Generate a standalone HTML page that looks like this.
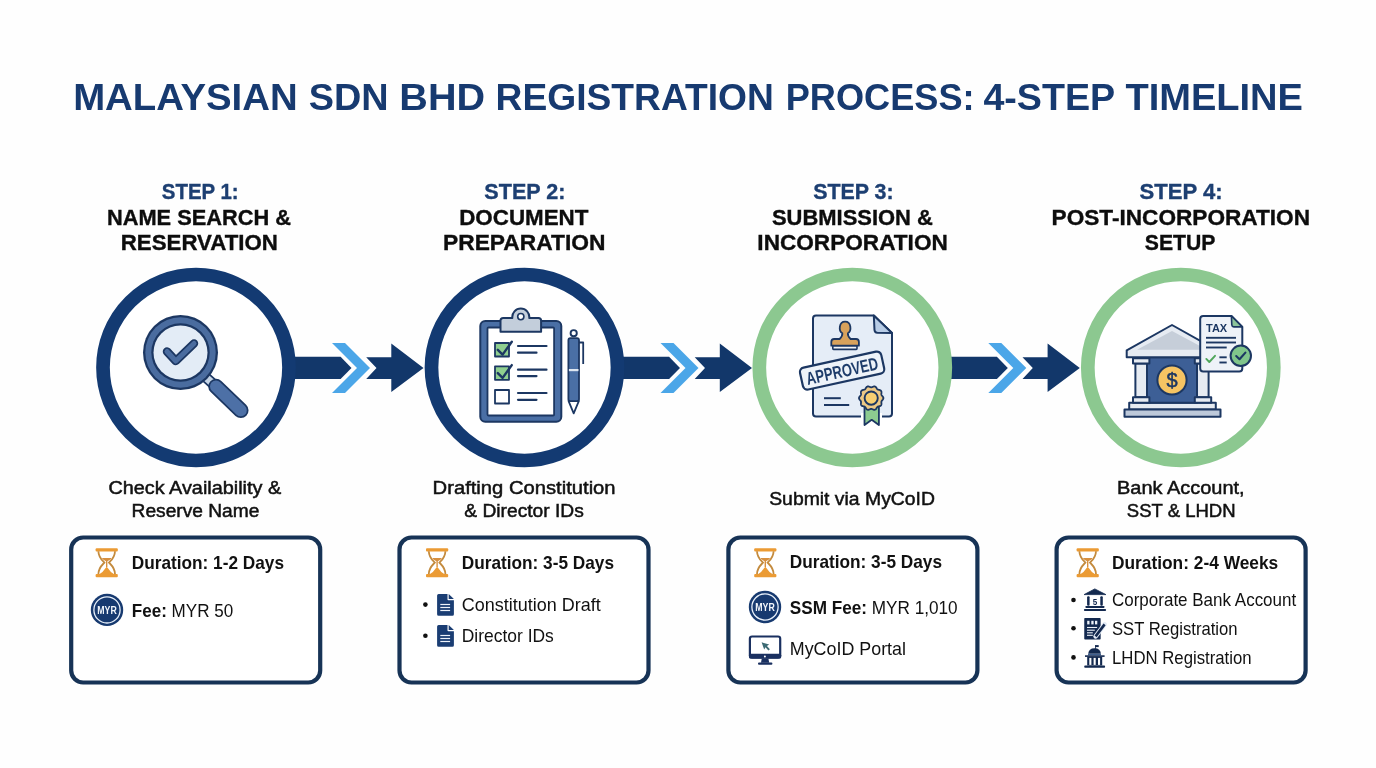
<!DOCTYPE html>
<html><head><meta charset="utf-8"><style>
html,body{margin:0;padding:0;background:#fefefe;}
body{width:1376px;height:768px;overflow:hidden;}
svg{display:block;font-family:"Liberation Sans",sans-serif;will-change:transform;}
</style></head><body>
<svg width="1376" height="768" viewBox="0 0 1376 768">
<rect width="1376" height="768" fill="#fefefe"/>
<polygon points="291,356.7 340.6,356.7 351.5,368 340.6,379.1 291,379.1" fill="#12376a"/>
<polygon points="332,343 345,343 370,368 345,393 332,393 357,368" fill="#4ba6e8"/>
<polygon points="366.2,357.2 391.3,357.2 391.3,343.6 423.5,368 391.3,392 391.3,379 366.2,379 376.5,368" fill="#12376a"/>
<polygon points="619.5,356.7 669.1,356.7 680.0,368 669.1,379.1 619.5,379.1" fill="#12376a"/>
<polygon points="660.5,343 673.5,343 698.5,368 673.5,393 660.5,393 685.5,368" fill="#4ba6e8"/>
<polygon points="694.7,357.2 719.8,357.2 719.8,343.6 752.0,368 719.8,392 719.8,379 694.7,379 705.0,368" fill="#12376a"/>
<polygon points="947.3,356.7 996.9,356.7 1007.8,368 996.9,379.1 947.3,379.1" fill="#12376a"/>
<polygon points="988.3,343 1001.3,343 1026.3,368 1001.3,393 988.3,393 1013.3,368" fill="#4ba6e8"/>
<polygon points="1022.5,357.2 1047.6,357.2 1047.6,343.6 1079.8,368 1047.6,392 1047.6,379 1022.5,379 1032.8,368" fill="#12376a"/>
<circle cx="196" cy="367.5" r="93" fill="#ffffff" stroke="#133a72" stroke-width="13.7"/>
<circle cx="524.5" cy="367.5" r="93" fill="#ffffff" stroke="#133a72" stroke-width="13.7"/>
<circle cx="852.3" cy="367.5" r="93" fill="#ffffff" stroke="#8cc890" stroke-width="13.7"/>
<circle cx="1180.8" cy="367.5" r="93" fill="#ffffff" stroke="#8cc890" stroke-width="13.7"/>
<g>
<line x1="206" y1="377.5" x2="216" y2="386.5" stroke="#1c3762" stroke-width="11" />
<line x1="206" y1="377.5" x2="216" y2="386.5" stroke="#c6d5e6" stroke-width="7.5" />
<line x1="216" y1="386.5" x2="240.8" y2="410.3" stroke="#1c3762" stroke-width="15.5" stroke-linecap="round"/>
<line x1="216" y1="386.5" x2="240.8" y2="410.3" stroke="#4d70a6" stroke-width="12" stroke-linecap="round"/>
<circle cx="180.5" cy="352.5" r="37.5" fill="#1c3762"/>
<circle cx="180.5" cy="352.5" r="35.2" fill="#4a6c9f"/>
<circle cx="180.5" cy="352.5" r="29.2" fill="#1c3762"/>
<circle cx="180.5" cy="352.5" r="27" fill="#e3ecf6"/>
<polyline points="167,351.5 175.8,361 194,343.5" fill="none" stroke="#1c3762" stroke-width="8.5" stroke-linecap="round" stroke-linejoin="round"/>
<polyline points="167,351.5 175.8,361 194,343.5" fill="none" stroke="#4a6c9f" stroke-width="5" stroke-linecap="round" stroke-linejoin="round"/>
</g>
<g stroke="#1c3762" stroke-width="2" stroke-linejoin="round">
<rect x="480.3" y="320.9" width="81" height="100.8" rx="5" fill="#4a6fa5"/>
<rect x="487.5" y="327.5" width="66.6" height="88" rx="1" fill="#ffffff" stroke-width="1.8"/>
<path d="M500.5,331.7 L500.5,320.5 Q500.5,317.9 503.2,317.9 L512.35,317.9 A8.5,8.5 0 1 1 529.25,317.9 L538.4,317.9 Q541.1,317.9 541.1,320.5 L541.1,331.7 Z" fill="#c3cedb"/>
<circle cx="520.8" cy="316.6" r="3.1" fill="#ffffff" stroke-width="1.6"/>
<rect x="495" y="343" width="14" height="13.5" fill="#8fcf8f" stroke-width="1.8"/>
<rect x="495" y="366.3" width="14" height="13.5" fill="#8fcf8f" stroke-width="1.8"/>
<rect x="495" y="390" width="14" height="13.5" fill="#ffffff" stroke-width="1.8"/>
<polyline points="497.8,349.8 502.6,354.6 511.8,341.8" fill="none" stroke-width="2.4" stroke-linecap="round"/>
<polyline points="497.8,373.1 502.6,377.9 511.8,365.1" fill="none" stroke-width="2.4" stroke-linecap="round"/>
<g stroke-width="2.2" stroke-linecap="round">
<line x1="518" y1="346" x2="546.5" y2="346"/><line x1="518" y1="352.7" x2="536.5" y2="352.7"/>
<line x1="518" y1="369.7" x2="546.5" y2="369.7"/><line x1="518" y1="376.1" x2="536.5" y2="376.1"/>
<line x1="518" y1="393" x2="546.5" y2="393"/><line x1="518" y1="399.8" x2="536.5" y2="399.8"/>
</g>
<path d="M579,342.5 L583.2,342.5 L583.2,364" fill="none" stroke-width="1.8"/>
<circle cx="573.7" cy="333.2" r="3.1" fill="#ffffff" stroke-width="1.9"/>
<polygon points="568.6,401.2 578.8,401.2 573.7,413.3" fill="#ffffff" stroke-width="1.8"/>
<rect x="568.4" y="338.2" width="10.6" height="63" rx="2" fill="#4a6fa5" stroke-width="1.8"/>
<rect x="568.9" y="369" width="9.6" height="2.2" fill="#dfe7f1" stroke="none"/>
</g>
<g stroke="#1c3762" stroke-width="2" stroke-linejoin="round">
<path d="M816,315.5 L873.8,315.5 L892,333 L892,413.5 Q892,416.5 889,416.5 L816,416.5 Q813,416.5 813,413.5 L813,318.5 Q813,315.5 816,315.5 Z" fill="#e5edf7"/>
<path d="M873.8,315.5 L874.5,330 Q874.7,332.6 877.3,332.8 L892,333 Z" fill="#b7cce6"/>
<rect x="832.8" y="345.6" width="24.2" height="3.8" rx="0.8" fill="#f4f6f9" stroke-width="1.6"/>
<path d="M839.6,339 C841.6,337.2 842.6,335.2 842.3,333.2 C838.4,331 838.8,321.6 845.1,321.6 C851.4,321.6 851.8,331 847.9,333.2 C847.6,335.2 848.6,337.2 850.6,339 L856,339 Q858.9,339 858.9,341.9 L858.9,345.7 L831.3,345.7 L831.3,341.9 Q831.3,339 834.2,339 Z" fill="#d8a25c" stroke-width="1.8"/>
<line x1="824" y1="398.2" x2="840.8" y2="398.2" stroke-width="2"/>
<line x1="824" y1="405" x2="849.2" y2="405" stroke-width="2"/>
<g transform="translate(842.1,370.6) rotate(-12.4)">
<rect x="-41.6" y="-11.2" width="83.2" height="22.4" rx="4.5" fill="#eef3f9" stroke-width="2.2"/>
<text x="0" y="6.6" font-size="18" font-weight="bold" fill="#1f3d6b" stroke="none" text-anchor="middle" textLength="73" lengthAdjust="spacingAndGlyphs">APPROVED</text>
</g>
<rect x="861" y="413" width="21" height="6" fill="#ffffff" stroke="none"/>
<polygon points="864.5,406 878.9,406 878.9,425 871.7,419.8 864.5,425" fill="#8ccb90" stroke-width="1.8"/>
<polygon points="883.40,398.10 883.34,398.58 883.16,399.04 882.89,399.48 882.56,399.90 882.22,400.29 881.90,400.67 881.65,401.05 881.47,401.44 881.38,401.86 881.37,402.31 881.40,402.80 881.45,403.32 881.47,403.85 881.43,404.37 881.30,404.85 881.07,405.27 880.74,405.62 880.32,405.89 879.84,406.09 879.33,406.23 878.82,406.35 878.35,406.47 877.92,406.62 877.55,406.84 877.23,407.12 876.95,407.48 876.69,407.90 876.42,408.35 876.13,408.79 875.79,409.18 875.40,409.50 874.97,409.70 874.50,409.79 874.00,409.76 873.50,409.64 873.00,409.46 872.52,409.25 872.06,409.07 871.63,408.94 871.20,408.90 870.77,408.94 870.34,409.07 869.88,409.25 869.40,409.46 868.90,409.64 868.40,409.76 867.90,409.79 867.43,409.70 867.00,409.50 866.61,409.18 866.27,408.79 865.98,408.35 865.71,407.90 865.45,407.48 865.17,407.12 864.85,406.84 864.48,406.62 864.05,406.47 863.58,406.35 863.07,406.23 862.56,406.09 862.08,405.89 861.66,405.62 861.33,405.27 861.10,404.85 860.97,404.37 860.93,403.85 860.95,403.32 861.00,402.80 861.03,402.31 861.02,401.86 860.93,401.44 860.75,401.05 860.50,400.67 860.18,400.29 859.84,399.90 859.51,399.48 859.24,399.04 859.06,398.58 859.00,398.10 859.06,397.62 859.24,397.16 859.51,396.72 859.84,396.30 860.18,395.91 860.50,395.53 860.75,395.15 860.93,394.76 861.02,394.34 861.03,393.89 861.00,393.40 860.95,392.88 860.93,392.35 860.97,391.83 861.10,391.35 861.33,390.93 861.66,390.58 862.08,390.31 862.56,390.11 863.07,389.97 863.58,389.85 864.05,389.73 864.48,389.58 864.85,389.36 865.17,389.08 865.45,388.72 865.71,388.30 865.98,387.85 866.27,387.41 866.61,387.02 867.00,386.70 867.43,386.50 867.90,386.41 868.40,386.44 868.90,386.56 869.40,386.74 869.88,386.95 870.34,387.13 870.77,387.26 871.20,387.30 871.63,387.26 872.06,387.13 872.52,386.95 873.00,386.74 873.50,386.56 874.00,386.44 874.50,386.41 874.97,386.50 875.40,386.70 875.79,387.02 876.13,387.41 876.42,387.85 876.69,388.30 876.95,388.72 877.23,389.08 877.55,389.36 877.92,389.58 878.35,389.73 878.82,389.85 879.33,389.97 879.84,390.11 880.32,390.31 880.74,390.58 881.07,390.93 881.30,391.35 881.43,391.83 881.47,392.35 881.45,392.88 881.40,393.40 881.37,393.89 881.38,394.34 881.47,394.76 881.65,395.15 881.90,395.53 882.22,395.91 882.56,396.30 882.89,396.72 883.16,397.16 883.34,397.62" fill="#edc986" stroke-width="1.8"/>
<circle cx="871.2" cy="398.1" r="6.6" fill="#f7cf72" stroke-width="1.9"/>
</g>
<g stroke="#1c3762" stroke-width="2" stroke-linejoin="round">
<rect x="1129.2" y="402.7" width="86.6" height="6.8" fill="#e6ebf2"/>
<rect x="1124.5" y="409.5" width="96" height="7.2" fill="#bdc9da"/>
<rect x="1147" y="357.3" width="50" height="45.4" fill="#3d5f96"/>
<rect x="1135.4" y="363.6" width="11.6" height="33.6" fill="#e6ebf2"/>
<rect x="1133" y="358.2" width="16.4" height="5.4" fill="#e6ebf2"/>
<rect x="1133" y="397.2" width="16.4" height="5.5" fill="#e6ebf2"/>
<rect x="1197" y="363.6" width="11.6" height="33.6" fill="#e6ebf2"/>
<rect x="1194.8" y="358.2" width="16.4" height="5.4" fill="#e6ebf2"/>
<rect x="1194.8" y="397.2" width="16.4" height="5.5" fill="#e6ebf2"/>
<path d="M1126.7,357.3 L1126.7,350.3 L1172,325 L1217.3,350.3 L1217.3,357.3 Z" fill="#e6ebf2"/>
<path d="M1137,349.8 L1172,331 L1207,349.8 Z" fill="#c6ced9" stroke="none"/>
<circle cx="1172" cy="380" r="14.6" fill="#f6c463" stroke-width="2"/>
<text x="1172" y="387.2" font-size="20" fill="#1c3762" stroke="#1c3762" stroke-width="0.5" text-anchor="middle">$</text>
<path d="M1203.2,315.9 L1231.4,315.9 L1242.3,326.9 L1242.3,368.4 Q1242.3,371.4 1239.3,371.4 L1203.2,371.4 Q1200.2,371.4 1200.2,368.4 L1200.2,318.9 Q1200.2,315.9 1203.2,315.9 Z" fill="#eef2f8"/>
<path d="M1231.4,315.9 L1231.8,325 Q1232,326.8 1233.8,326.9 L1242.3,326.9 Z" fill="#8cc49a" stroke-width="1.6"/>
<text x="1206" y="332" font-size="11.6" font-weight="bold" fill="#1c3762" stroke="none" textLength="21.2" lengthAdjust="spacingAndGlyphs">TAX</text>
<g stroke-width="1.9"><line x1="1206" y1="337.8" x2="1236" y2="337.8"/><line x1="1206" y1="342.5" x2="1236" y2="342.5"/><line x1="1206" y1="347.5" x2="1226.7" y2="347.5"/>
<line x1="1219.4" y1="357.3" x2="1226.7" y2="357.3"/><line x1="1219.4" y1="362.5" x2="1226.7" y2="362.5"/></g>
<polyline points="1206.3,358.9 1209.3,362 1215,355.8" fill="none" stroke="#4fa65a" stroke-width="1.9" stroke-linecap="round"/>
<circle cx="1240.8" cy="355.8" r="10.2" fill="#80c58b" stroke-width="2"/>
<polyline points="1236.2,356 1239.5,359.2 1245.4,352.6" fill="none" stroke-width="2.1" stroke-linecap="round"/>
</g>
<rect x="71.2" y="537.5" width="249" height="145" rx="12" fill="#ffffff" stroke="#173356" stroke-width="4.2"/>
<rect x="399.5" y="537.5" width="249" height="145" rx="12" fill="#ffffff" stroke="#173356" stroke-width="4.2"/>
<rect x="728.4" y="537.5" width="249" height="145" rx="12" fill="#ffffff" stroke="#173356" stroke-width="4.2"/>
<rect x="1056.6" y="537.5" width="249" height="145" rx="12" fill="#ffffff" stroke="#173356" stroke-width="4.2"/>
<g transform="translate(95.6,547.6)" fill="#eb9b34" stroke="none">
<rect x="0" y="0.6" width="22.2" height="3.2" rx="1"/>
<rect x="0" y="26.4" width="22.2" height="3.2" rx="1"/>
<path d="M2.8,3.6 C3,10 6.3,12.3 8.8,15 C6.3,17.7 3,20 2.8,26.4" fill="none" stroke="#c48b3e" stroke-width="1.8"/>
<path d="M19.4,3.6 C19.2,10 15.9,12.3 13.4,15 C15.9,17.7 19.2,20 19.4,26.4" fill="none" stroke="#c48b3e" stroke-width="1.8"/>
<path d="M6.4,10.4 L15.8,10.4 L15.2,11.6 L11.8,13.6 L11.8,19.5 L10.4,19.5 L10.4,13.6 L7,11.6 Z" fill="#d79040"/>
<path d="M4,26.5 Q7.5,24.5 9.6,21 L11.1,19.2 L12.6,21 Q14.7,24.5 18.2,26.5 Z"/>
</g>
<g transform="translate(426,547.6)" fill="#eb9b34" stroke="none">
<rect x="0" y="0.6" width="22.2" height="3.2" rx="1"/>
<rect x="0" y="26.4" width="22.2" height="3.2" rx="1"/>
<path d="M2.8,3.6 C3,10 6.3,12.3 8.8,15 C6.3,17.7 3,20 2.8,26.4" fill="none" stroke="#c48b3e" stroke-width="1.8"/>
<path d="M19.4,3.6 C19.2,10 15.9,12.3 13.4,15 C15.9,17.7 19.2,20 19.4,26.4" fill="none" stroke="#c48b3e" stroke-width="1.8"/>
<path d="M6.4,10.4 L15.8,10.4 L15.2,11.6 L11.8,13.6 L11.8,19.5 L10.4,19.5 L10.4,13.6 L7,11.6 Z" fill="#d79040"/>
<path d="M4,26.5 Q7.5,24.5 9.6,21 L11.1,19.2 L12.6,21 Q14.7,24.5 18.2,26.5 Z"/>
</g>
<g transform="translate(754.2,547.6)" fill="#eb9b34" stroke="none">
<rect x="0" y="0.6" width="22.2" height="3.2" rx="1"/>
<rect x="0" y="26.4" width="22.2" height="3.2" rx="1"/>
<path d="M2.8,3.6 C3,10 6.3,12.3 8.8,15 C6.3,17.7 3,20 2.8,26.4" fill="none" stroke="#c48b3e" stroke-width="1.8"/>
<path d="M19.4,3.6 C19.2,10 15.9,12.3 13.4,15 C15.9,17.7 19.2,20 19.4,26.4" fill="none" stroke="#c48b3e" stroke-width="1.8"/>
<path d="M6.4,10.4 L15.8,10.4 L15.2,11.6 L11.8,13.6 L11.8,19.5 L10.4,19.5 L10.4,13.6 L7,11.6 Z" fill="#d79040"/>
<path d="M4,26.5 Q7.5,24.5 9.6,21 L11.1,19.2 L12.6,21 Q14.7,24.5 18.2,26.5 Z"/>
</g>
<g transform="translate(1076.6,547.6)" fill="#eb9b34" stroke="none">
<rect x="0" y="0.6" width="22.2" height="3.2" rx="1"/>
<rect x="0" y="26.4" width="22.2" height="3.2" rx="1"/>
<path d="M2.8,3.6 C3,10 6.3,12.3 8.8,15 C6.3,17.7 3,20 2.8,26.4" fill="none" stroke="#c48b3e" stroke-width="1.8"/>
<path d="M19.4,3.6 C19.2,10 15.9,12.3 13.4,15 C15.9,17.7 19.2,20 19.4,26.4" fill="none" stroke="#c48b3e" stroke-width="1.8"/>
<path d="M6.4,10.4 L15.8,10.4 L15.2,11.6 L11.8,13.6 L11.8,19.5 L10.4,19.5 L10.4,13.6 L7,11.6 Z" fill="#d79040"/>
<path d="M4,26.5 Q7.5,24.5 9.6,21 L11.1,19.2 L12.6,21 Q14.7,24.5 18.2,26.5 Z"/>
</g>
<g><circle cx="107" cy="609.9" r="16.2" fill="#173a70"/>
<circle cx="107" cy="609.9" r="13.1" fill="none" stroke="#e8f0fa" stroke-width="1.3"/>
<text x="107" y="613.5" font-size="10" font-weight="bold" fill="#f2f6fb" text-anchor="middle" textLength="19.5" lengthAdjust="spacingAndGlyphs">MYR</text></g>
<g><circle cx="765" cy="607" r="16.2" fill="#173a70"/>
<circle cx="765" cy="607" r="13.1" fill="none" stroke="#e8f0fa" stroke-width="1.3"/>
<text x="765" y="610.6" font-size="10" font-weight="bold" fill="#f2f6fb" text-anchor="middle" textLength="19.5" lengthAdjust="spacingAndGlyphs">MYR</text></g>
<g transform="translate(437.1,593.9)">
<path d="M1.5,0 L10.4,0 L10.4,5.6 Q10.4,6.4 11.2,6.4 L16.8,6.4 L16.8,20.4 Q16.8,21.9 15.3,21.9 L1.5,21.9 Q0,21.9 0,20.4 L0,1.5 Q0,0 1.5,0 Z" fill="#1a3d73"/>
<path d="M11.6,0.2 L16.8,5.2 L11.6,5.2 Z" fill="#1a3d73"/>
<g stroke="#eef3fa" stroke-width="1.2"><line x1="3.2" y1="10.6" x2="13" y2="10.6"/><line x1="3.2" y1="13.6" x2="13" y2="13.6"/><line x1="3.2" y1="16.6" x2="13" y2="16.6"/></g>
</g>
<g transform="translate(437.1,624.9)">
<path d="M1.5,0 L10.4,0 L10.4,5.6 Q10.4,6.4 11.2,6.4 L16.8,6.4 L16.8,20.4 Q16.8,21.9 15.3,21.9 L1.5,21.9 Q0,21.9 0,20.4 L0,1.5 Q0,0 1.5,0 Z" fill="#1a3d73"/>
<path d="M11.6,0.2 L16.8,5.2 L11.6,5.2 Z" fill="#1a3d73"/>
<g stroke="#eef3fa" stroke-width="1.2"><line x1="3.2" y1="10.6" x2="13" y2="10.6"/><line x1="3.2" y1="13.6" x2="13" y2="13.6"/><line x1="3.2" y1="16.6" x2="13" y2="16.6"/></g>
</g>
<circle cx="425.4" cy="604.6" r="2.3" fill="#111"/>
<circle cx="425.4" cy="635.7" r="2.3" fill="#111"/>
<circle cx="1073.5" cy="600" r="2.3" fill="#111"/>
<circle cx="1073.5" cy="628.2" r="2.3" fill="#111"/>
<circle cx="1073.5" cy="657.4" r="2.3" fill="#111"/>
<g fill="#1a3060">
<rect x="749.9" y="636.5" width="30.3" height="21.2" rx="2.2" fill="#ffffff" stroke="#1a3060" stroke-width="2.2"/>
<rect x="749" y="653.8" width="32.2" height="4.8" rx="1.5"/>
<circle cx="764.9" cy="656.4" r="1" fill="#ffffff"/>
<polygon points="761.8,658.5 768.4,658.5 769.2,662.8 761,662.8"/>
<rect x="758" y="662.6" width="14.4" height="2.1" rx="1"/>
<path d="M761.6,642.3 L769.2,644.6 L766.9,645.9 L769.9,649.2 L768.4,650.5 L765.5,647.2 L764.2,649.6 Z" fill="#3d6b74"/>
</g>
<g fill="#13294f">
<polygon points="1094.8,588.9 1105.9,594.6 1084.1,594.6" stroke="#13294f" stroke-width="0.8" stroke-linejoin="round"/>
<rect x="1087.1" y="596.2" width="2.5" height="9.6" rx="1"/>
<rect x="1100.3" y="596.2" width="2.5" height="9.6" rx="1"/>
<text x="1095" y="604.7" font-size="9.6" font-weight="bold" text-anchor="middle" textLength="4.5" lengthAdjust="spacingAndGlyphs">5</text>
<rect x="1085.3" y="606.1" width="19.3" height="1.8" rx="0.8"/>
<rect x="1083.9" y="608.9" width="22.2" height="2.2" rx="1"/>
</g>
<g>
<rect x="1084.25" y="617.9" width="16.4" height="21.7" rx="0.8" fill="#13294f"/>
<g fill="#eef3fa"><rect x="1087.2" y="620.8" width="2.3" height="3.6"/><rect x="1091.3" y="620.8" width="2.3" height="3.6"/><rect x="1095" y="620.8" width="2.3" height="3.6"/></g>
<g stroke="#eef3fa" stroke-width="1.1"><line x1="1087" y1="627.5" x2="1097.1" y2="627.5"/><line x1="1087" y1="630.2" x2="1094.8" y2="630.2"/><line x1="1087" y1="632.8" x2="1092.8" y2="632.8"/><line x1="1087" y1="635.3" x2="1092.8" y2="635.3"/></g>
<line x1="1104.6" y1="624.4" x2="1095.6" y2="636.4" stroke="#e2eaf5" stroke-width="4.6" stroke-linecap="round"/>
<line x1="1104.6" y1="624.4" x2="1095.6" y2="636.4" stroke="#13294f" stroke-width="2.6"/>
</g>
<g fill="#13294f">
<rect x="1095.2" y="645.1" width="0.8" height="4"/>
<rect x="1095.2" y="645.1" width="3.5" height="2"/>
<path d="M1088.2,653.8 Q1088.6,648.2 1094.55,648.2 Q1100.5,648.2 1100.9,653.8 Z"/>
<rect x="1088" y="653.8" width="13" height="1.6" fill="#3f5f8f"/>
<rect x="1085" y="655.3" width="19.6" height="1.6"/>
<rect x="1087.2" y="656.9" width="15" height="8.6"/>
<g fill="#ffffff"><rect x="1089.3" y="657.9" width="2.1" height="7"/><rect x="1093.6" y="657.9" width="2.1" height="7"/><rect x="1098" y="657.9" width="2.1" height="7"/></g>
<rect x="1084.25" y="665.4" width="20.8" height="2.4" rx="0.8"/>
</g>
<text x="73.18" y="109.9" font-size="36.6" font-weight="bold" fill="#173a70" textLength="224.45" lengthAdjust="spacingAndGlyphs" >MALAYSIAN</text>
<text x="308.77" y="109.9" font-size="36.6" font-weight="bold" fill="#173a70" textLength="79.87" lengthAdjust="spacingAndGlyphs" >SDN</text>
<text x="399.33" y="109.9" font-size="36.6" font-weight="bold" fill="#173a70" textLength="85.72" lengthAdjust="spacingAndGlyphs" >BHD</text>
<text x="495.58" y="109.9" font-size="36.6" font-weight="bold" fill="#173a70" textLength="278.24" lengthAdjust="spacingAndGlyphs" >REGISTRATION</text>
<text x="785.75" y="109.9" font-size="36.6" font-weight="bold" fill="#173a70" textLength="188.91" lengthAdjust="spacingAndGlyphs" >PROCESS:</text>
<text x="983.40" y="109.9" font-size="36.6" font-weight="bold" fill="#173a70" textLength="131.80" lengthAdjust="spacingAndGlyphs" >4-STEP</text>
<text x="1125.40" y="109.9" font-size="36.6" font-weight="bold" fill="#173a70" textLength="177.60" lengthAdjust="spacingAndGlyphs" >TIMELINE</text>
<text x="161.79" y="199" font-size="21.2" font-weight="bold" fill="#1d3f72" textLength="76.81" lengthAdjust="spacingAndGlyphs" stroke="#1d3f72" stroke-width="0.35">STEP 1:</text>
<text x="107.01" y="224.9" font-size="21.2" font-weight="bold" fill="#0d0d0d" textLength="183.99" lengthAdjust="spacingAndGlyphs" stroke="#0d0d0d" stroke-width="0.35">NAME SEARCH &amp;</text>
<text x="120.80" y="250.3" font-size="21.2" font-weight="bold" fill="#0d0d0d" textLength="157.00" lengthAdjust="spacingAndGlyphs" stroke="#0d0d0d" stroke-width="0.35">RESERVATION</text>
<text x="484.39" y="199" font-size="21.2" font-weight="bold" fill="#1d3f72" textLength="81.02" lengthAdjust="spacingAndGlyphs" stroke="#1d3f72" stroke-width="0.35">STEP 2:</text>
<text x="459.20" y="224.9" font-size="21.2" font-weight="bold" fill="#0d0d0d" textLength="129.21" lengthAdjust="spacingAndGlyphs" stroke="#0d0d0d" stroke-width="0.35">DOCUMENT</text>
<text x="442.99" y="250.3" font-size="21.2" font-weight="bold" fill="#0d0d0d" textLength="162.42" lengthAdjust="spacingAndGlyphs" stroke="#0d0d0d" stroke-width="0.35">PREPARATION</text>
<text x="813.20" y="199" font-size="21.2" font-weight="bold" fill="#1d3f72" textLength="80.41" lengthAdjust="spacingAndGlyphs" stroke="#1d3f72" stroke-width="0.35">STEP 3:</text>
<text x="772.00" y="224.9" font-size="21.2" font-weight="bold" fill="#0d0d0d" textLength="160.80" lengthAdjust="spacingAndGlyphs" stroke="#0d0d0d" stroke-width="0.35">SUBMISSION &amp;</text>
<text x="757.39" y="250.3" font-size="21.2" font-weight="bold" fill="#0d0d0d" textLength="190.42" lengthAdjust="spacingAndGlyphs" stroke="#0d0d0d" stroke-width="0.35">INCORPORATION</text>
<text x="1139.59" y="199" font-size="21.2" font-weight="bold" fill="#1d3f72" textLength="83.01" lengthAdjust="spacingAndGlyphs" stroke="#1d3f72" stroke-width="0.35">STEP 4:</text>
<text x="1051.60" y="224.9" font-size="21.2" font-weight="bold" fill="#0d0d0d" textLength="258.40" lengthAdjust="spacingAndGlyphs" stroke="#0d0d0d" stroke-width="0.35">POST-INCORPORATION</text>
<text x="1144.79" y="250.3" font-size="21.2" font-weight="bold" fill="#0d0d0d" textLength="70.61" lengthAdjust="spacingAndGlyphs" stroke="#0d0d0d" stroke-width="0.35">SETUP</text>
<text x="108.40" y="493.5" font-size="18.9" font-weight="normal" fill="#111111" textLength="172.81" lengthAdjust="spacingAndGlyphs" stroke="#111111" stroke-width="0.5">Check Availability &amp;</text>
<text x="131.59" y="516.8" font-size="18.9" font-weight="normal" fill="#111111" textLength="127.82" lengthAdjust="spacingAndGlyphs" stroke="#111111" stroke-width="0.5">Reserve Name</text>
<text x="432.60" y="493.6" font-size="18.9" font-weight="normal" fill="#111111" textLength="183.00" lengthAdjust="spacingAndGlyphs" stroke="#111111" stroke-width="0.5">Drafting Constitution</text>
<text x="464.39" y="516.6" font-size="18.9" font-weight="normal" fill="#111111" textLength="119.41" lengthAdjust="spacingAndGlyphs" stroke="#111111" stroke-width="0.5">&amp; Director IDs</text>
<text x="769.20" y="504.8" font-size="18.9" font-weight="normal" fill="#111111" textLength="165.81" lengthAdjust="spacingAndGlyphs" stroke="#111111" stroke-width="0.5">Submit via MyCoID</text>
<text x="1116.99" y="493.6" font-size="18.9" font-weight="normal" fill="#111111" textLength="127.63" lengthAdjust="spacingAndGlyphs" stroke="#111111" stroke-width="0.5">Bank Account,</text>
<text x="1126.79" y="516.6" font-size="18.9" font-weight="normal" fill="#111111" textLength="108.82" lengthAdjust="spacingAndGlyphs" stroke="#111111" stroke-width="0.5">SST &amp; LHDN</text>
<text x="131.79" y="568.8" font-size="18.2" font-weight="normal" fill="#111111" textLength="152.22" lengthAdjust="spacingAndGlyphs" ><tspan font-weight="bold">Duration: 1-2 Days</tspan></text>
<text x="131.79" y="616.8" font-size="18.2" font-weight="normal" fill="#111111" textLength="101.42" lengthAdjust="spacingAndGlyphs" ><tspan font-weight="bold">Fee:</tspan> MYR 50</text>
<text x="461.79" y="568.8" font-size="18.2" font-weight="normal" fill="#111111" textLength="152.22" lengthAdjust="spacingAndGlyphs" ><tspan font-weight="bold">Duration: 3-5 Days</tspan></text>
<text x="461.79" y="610.8" font-size="18.2" font-weight="normal" fill="#111111" textLength="139.02" lengthAdjust="spacingAndGlyphs" >Constitution Draft</text>
<text x="461.79" y="641.7" font-size="18.2" font-weight="normal" fill="#111111" textLength="92.01" lengthAdjust="spacingAndGlyphs" >Director IDs</text>
<text x="789.79" y="568.4" font-size="18.2" font-weight="normal" fill="#111111" textLength="152.22" lengthAdjust="spacingAndGlyphs" ><tspan font-weight="bold">Duration: 3-5 Days</tspan></text>
<text x="789.80" y="614" font-size="18.2" font-weight="normal" fill="#111111" textLength="167.80" lengthAdjust="spacingAndGlyphs" ><tspan font-weight="bold">SSM Fee:</tspan> MYR 1,010</text>
<text x="789.78" y="655" font-size="18.2" font-weight="normal" fill="#111111" textLength="116.22" lengthAdjust="spacingAndGlyphs" >MyCoID Portal</text>
<text x="1112.00" y="569" font-size="18.2" font-weight="normal" fill="#111111" textLength="166.20" lengthAdjust="spacingAndGlyphs" ><tspan font-weight="bold">Duration: 2-4 Weeks</tspan></text>
<text x="1111.99" y="605.8" font-size="18.2" font-weight="normal" fill="#111111" textLength="184.22" lengthAdjust="spacingAndGlyphs" >Corporate Bank Account</text>
<text x="1112.00" y="635.4" font-size="18.2" font-weight="normal" fill="#111111" textLength="125.60" lengthAdjust="spacingAndGlyphs" >SST Registration</text>
<text x="1112.00" y="663.5" font-size="18.2" font-weight="normal" fill="#111111" textLength="139.60" lengthAdjust="spacingAndGlyphs" >LHDN Registration</text>
</svg>
</body></html>
